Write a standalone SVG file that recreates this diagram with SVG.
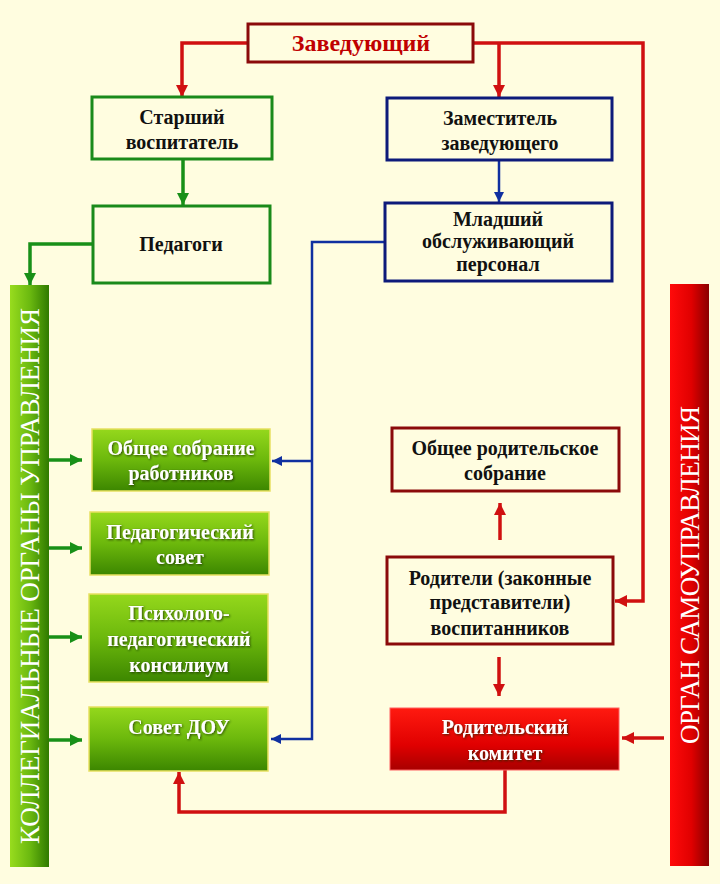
<svg xmlns="http://www.w3.org/2000/svg" width="720" height="884" viewBox="0 0 720 884">
<defs>
<style>
.t{font-family:"Liberation Serif","Times New Roman",serif;font-weight:bold;text-anchor:middle;}
.blk{fill:#111;font-size:20px;}
.wht{fill:#fff;font-size:20px;filter:url(#sh);}
.gb{fill:none;stroke:#1a8a1a;stroke-width:3;}
.bb{fill:none;stroke:#0d1a7a;stroke-width:3;}
.rb{fill:none;stroke:#8b0a0a;stroke-width:3;}
.gf{fill:url(#gG);stroke:#e8e060;stroke-width:1.5;}
.rf{fill:url(#gR);stroke:#ff6060;stroke-width:1;}
.cr{fill:none;stroke:#d01010;stroke-width:3.5;}
.cg{fill:none;stroke:#189018;stroke-width:3.5;}
.cb{fill:none;stroke:#1030a0;stroke-width:2.5;}
.vt{font-family:"Liberation Serif","Times New Roman",serif;fill:#fff;font-size:27px;text-anchor:middle;}
</style>
<linearGradient id="gG" x1="0" y1="0" x2="0" y2="1">
<stop offset="0" stop-color="#95d81c"/><stop offset="0.5" stop-color="#6cb80c"/><stop offset="1" stop-color="#3c8600"/>
</linearGradient>
<linearGradient id="gR" x1="0" y1="0" x2="0" y2="1">
<stop offset="0" stop-color="#ff1a10"/><stop offset="0.6" stop-color="#e00000"/><stop offset="1" stop-color="#a80000"/>
</linearGradient>
<linearGradient id="gGB" x1="0" y1="0" x2="1" y2="0">
<stop offset="0" stop-color="#98dc1e"/><stop offset="0.5" stop-color="#6cba10"/><stop offset="1" stop-color="#2f7a00"/>
</linearGradient>
<linearGradient id="gRB" x1="0" y1="0" x2="1" y2="0">
<stop offset="0" stop-color="#ff0a0a"/><stop offset="0.55" stop-color="#e00000"/><stop offset="1" stop-color="#8a0000"/>
</linearGradient>
<filter id="sh" x="-10%" y="-30%" width="120%" height="160%">
<feDropShadow dx="1" dy="1" stdDeviation="0.8" flood-color="#1a2a00" flood-opacity="0.8"/>
</filter>
<marker id="aR" markerUnits="userSpaceOnUse" markerWidth="12" markerHeight="12" refX="12" refY="6" orient="auto"><path d="M0,0 L12,6 L0,12 z" fill="#d01010"/></marker>
<marker id="aG" markerUnits="userSpaceOnUse" markerWidth="12" markerHeight="12" refX="12" refY="6" orient="auto"><path d="M0,0 L12,6 L0,12 z" fill="#189018"/></marker>
<marker id="aB" markerUnits="userSpaceOnUse" markerWidth="10" markerHeight="10" refX="10" refY="5" orient="auto"><path d="M0,0 L10,5 L0,10 z" fill="#1030a0"/></marker>
</defs>
<rect width="720" height="884" fill="#fffde0"/>

<g id="connectors">
<path class="cr" d="M248,43 H182 V97" marker-end="url(#aR)"/>
<path class="cr" d="M473,43 H643 V601 H615" marker-end="url(#aR)"/>
<path class="cr" d="M499,43 V97" marker-end="url(#aR)"/>
<path class="cr" d="M500,540 V503" marker-end="url(#aR)"/>
<path class="cr" d="M499,657 V696" marker-end="url(#aR)"/>
<path class="cr" d="M664,738 H622" marker-end="url(#aR)"/>
<path class="cr" d="M505,770 V812 H179 V772" marker-end="url(#aR)"/>
<path class="cg" d="M183,160 V205" marker-end="url(#aG)"/>
<path class="cg" d="M93,244 H30 V285" marker-end="url(#aG)"/>
<path class="cg" d="M49,460 H82" marker-end="url(#aG)"/>
<path class="cg" d="M49,548 H82" marker-end="url(#aG)"/>
<path class="cg" d="M49,637 H82" marker-end="url(#aG)"/>
<path class="cg" d="M49,740 H82" marker-end="url(#aG)"/>
<path class="cb" d="M499,161 V202" marker-end="url(#aB)"/>
<path class="cb" d="M385,242 H312 V739 H271" marker-end="url(#aB)"/>
<path class="cb" d="M312,461 H272" marker-end="url(#aB)"/>
</g>

<g id="head">
<rect class="rb" x="248" y="24" width="225" height="38"/>
<text class="t" x="361" y="51" fill="#c00000" font-size="24">Заведующий</text>
</g>
<g id="senior">
<rect class="gb" x="92" y="97" width="180" height="62"/>
<text class="t blk" x="182" y="124">Старший</text>
<text class="t blk" x="182" y="149">воспитатель</text>
</g>
<g id="deputy">
<rect class="bb" x="387" y="98" width="225" height="62"/>
<text class="t blk" x="500" y="125">Заместитель</text>
<text class="t blk" x="500" y="150">заведующего</text>
</g>
<g id="teachers">
<rect class="gb" x="93" y="206" width="177" height="77"/>
<text class="t blk" x="181" y="251" font-size="19">Педагоги</text>
</g>
<g id="junior">
<rect class="bb" x="385" y="203" width="227" height="78"/>
<text class="t blk" x="498" y="226" font-size="18">Младший</text>
<text class="t blk" x="498" y="248" font-size="18">обслуживающий</text>
<text class="t blk" x="498" y="271" font-size="18">персонал</text>
</g>

<g id="collegial-bar">
<rect x="10" y="285" width="39" height="582" fill="url(#gGB)"/>
<text class="vt" transform="translate(39,576) rotate(-90)" textLength="536" lengthAdjust="spacing">КОЛЛЕГИАЛЬНЫЕ  ОРГАНЫ  УПРАВЛЕНИЯ</text>
</g>
<g id="self-bar">
<rect x="670" y="284" width="39" height="582" fill="url(#gRB)"/>
<text class="vt" transform="translate(699,575) rotate(-90)" textLength="338" lengthAdjust="spacing">ОРГАН  САМОУПРАВЛЕНИЯ</text>
</g>

<g id="general-meeting">
<rect class="gf" x="92" y="429" width="178" height="62"/>
<text class="t wht" x="181" y="455">Общее собрание</text>
<text class="t wht" x="181" y="480">работников</text>
</g>
<g id="ped-council">
<rect class="gf" x="90" y="512" width="179" height="63"/>
<text class="t wht" x="180" y="539">Педагогический</text>
<text class="t wht" x="180" y="564">совет</text>
</g>
<g id="ppk">
<rect class="gf" x="89" y="594" width="179" height="88"/>
<text class="t wht" x="179" y="620">Психолого-</text>
<text class="t wht" x="179" y="646">педагогический</text>
<text class="t wht" x="179" y="672">консилиум</text>
</g>
<g id="dou-council">
<rect class="gf" x="89" y="707" width="179" height="64"/>
<text class="t wht" x="179" y="734">Совет ДОУ</text>
</g>

<g id="parent-meeting">
<rect class="rb" x="392" y="428" width="227" height="63"/>
<text class="t blk" x="505" y="455">Общее родительское</text>
<text class="t blk" x="505" y="480">собрание</text>
</g>
<g id="parents">
<rect class="rb" x="387" y="557" width="226" height="87"/>
<text class="t blk" x="500" y="585">Родители (законные</text>
<text class="t blk" x="500" y="609">представители)</text>
<text class="t blk" x="500" y="635">воспитанников</text>
</g>
<g id="parent-committee">
<rect class="rf" x="390" y="708" width="229" height="62"/>
<text class="t wht" x="505" y="734">Родительский</text>
<text class="t wht" x="505" y="760">комитет</text>
</g>
</svg>
